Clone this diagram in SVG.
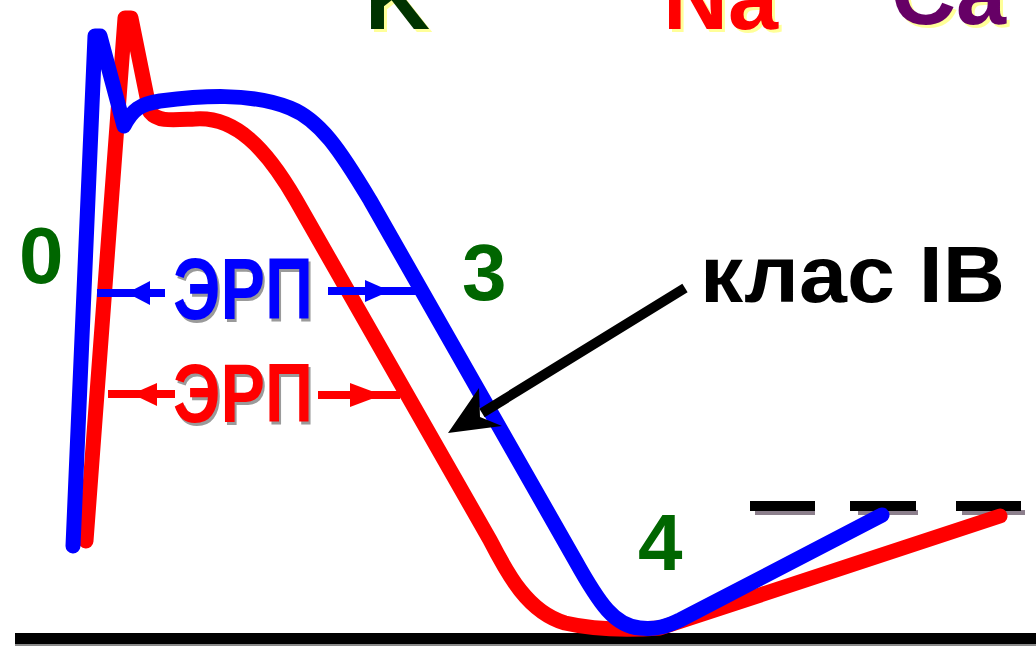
<svg xmlns="http://www.w3.org/2000/svg" width="1036" height="646" viewBox="0 0 1036 646">
  <style>
    .ion { font-family: "Liberation Sans", Arial, sans-serif; font-weight: bold; font-size: 90px; }
    .ion-shadow { fill: #ffff99; }
    .phase { font-family: "Liberation Sans", Arial, sans-serif; font-weight: bold; font-size: 80px; fill: #006600; }
    .erp { font-family: "Liberation Sans", Arial, sans-serif; font-weight: bold; }
    .erp-shadow { fill: #9a9a9a; }
    .curve { fill: none; stroke-width: 15; stroke-linejoin: round; stroke-linecap: round; }
    .label { font-family: "Liberation Sans", Arial, sans-serif; font-weight: bold; font-size: 80px; fill: #000000; }
  </style>

  <rect x="0" y="0" width="1036" height="646" fill="#ffffff"/>

  <!-- ion channel headings along the top edge -->
  <g id="ions">
    <text class="ion ion-shadow" x="368" y="32">K</text>
    <text class="ion" x="365" y="29" fill="#003300">K</text>
    <text class="ion ion-shadow" x="666" y="32">Na</text>
    <text class="ion" x="663" y="29" fill="#ff0000">Na</text>
    <text class="ion ion-shadow" x="894" y="27">Ca</text>
    <text class="ion" x="891" y="24" fill="#660066">Ca</text>
  </g>

  <!-- zero potential baseline and threshold dashes -->
  <g id="baseline">
    <rect x="15" y="643" width="1021" height="3" fill="#8a8a8a"/>
    <rect x="15" y="633" width="1021" height="11" fill="#000000"/>
  </g>
  <g id="threshold">
    <rect x="755" y="510" width="60" height="5" fill="#8c7f8c"/>
    <rect x="858" y="510" width="60" height="5" fill="#8c7f8c"/>
    <rect x="962" y="510" width="63" height="5" fill="#8c7f8c"/>
    <rect x="750" y="501" width="65" height="10" fill="#000000"/>
    <rect x="850" y="501" width="66" height="10" fill="#000000"/>
    <rect x="956" y="501" width="65" height="10" fill="#000000"/>
  </g>

  <!-- action potential curves -->
  <g id="curves">
    <path id="curve-red" class="curve" stroke="#ff0000"
          d="M86,541 L125,18 L131,18 L150,112 C158,122 172,120 195,119 C235,116 266,148 296,200 L490,540 C508,575 528,612 565,623 C595,630 630,630 660,628 L1000,516"/>
    <path id="curve-blue" class="curve" stroke="#0000ff"
          d="M73,546 L95,36 L100,36 L124,126 C132,110 140,104 160,101 C200,96 250,92 290,108 C320,120 340,150 370,200 L575,560 C600,605 615,626 640,628 C660,630 670,624 680,620 L882,515"/>
  </g>

  <!-- phase numbers -->
  <g id="phase-0"><text class="phase" x="19" y="283">0</text></g>
  <g id="phase-3"><text class="phase" x="462" y="300">3</text></g>
  <g id="phase-4"><text class="phase" x="638" y="570">4</text></g>

  <!-- effective refractory period, blue -->
  <g id="erp-blue">
    <text class="erp erp-shadow" x="175" y="322" font-size="88" textLength="140" lengthAdjust="spacingAndGlyphs">ЭРП</text>
    <text class="erp" x="173" y="319" font-size="88" textLength="140" lengthAdjust="spacingAndGlyphs" fill="#0000ff">ЭРП</text>
    <rect x="97" y="289" width="68" height="8" fill="#0000ff"/>
    <polygon points="127,293 150,281 150,305" fill="#0000ff"/>
    <rect x="328" y="287" width="92" height="8" fill="#0000ff"/>
    <polygon points="390,291 365,280 365,302" fill="#0000ff"/>
  </g>

  <!-- effective refractory period, red -->
  <g id="erp-red">
    <text class="erp erp-shadow" x="175" y="425" font-size="84" textLength="140" lengthAdjust="spacingAndGlyphs">ЭРП</text>
    <text class="erp" x="173" y="422" font-size="84" textLength="140" lengthAdjust="spacingAndGlyphs" fill="#ff0000">ЭРП</text>
    <rect x="108" y="390" width="67" height="8" fill="#ff0000"/>
    <polygon points="132,394 157,383 157,406" fill="#ff0000"/>
    <rect x="318" y="391" width="82" height="8" fill="#ff0000"/>
    <polygon points="382,395 350,383 350,407" fill="#ff0000"/>
  </g>

  <!-- class IB pointer -->
  <g id="class-ib">
    <text class="label" x="700" y="302" textLength="305" lengthAdjust="spacingAndGlyphs">клас IB</text>
  </g>
  <g id="connectors">
    <line x1="685" y1="288" x2="482" y2="413" stroke="#000000" stroke-width="10"/>
    <polygon points="448,433 479,388 480,417 502,426" fill="#000000"/>
  </g>
</svg>
